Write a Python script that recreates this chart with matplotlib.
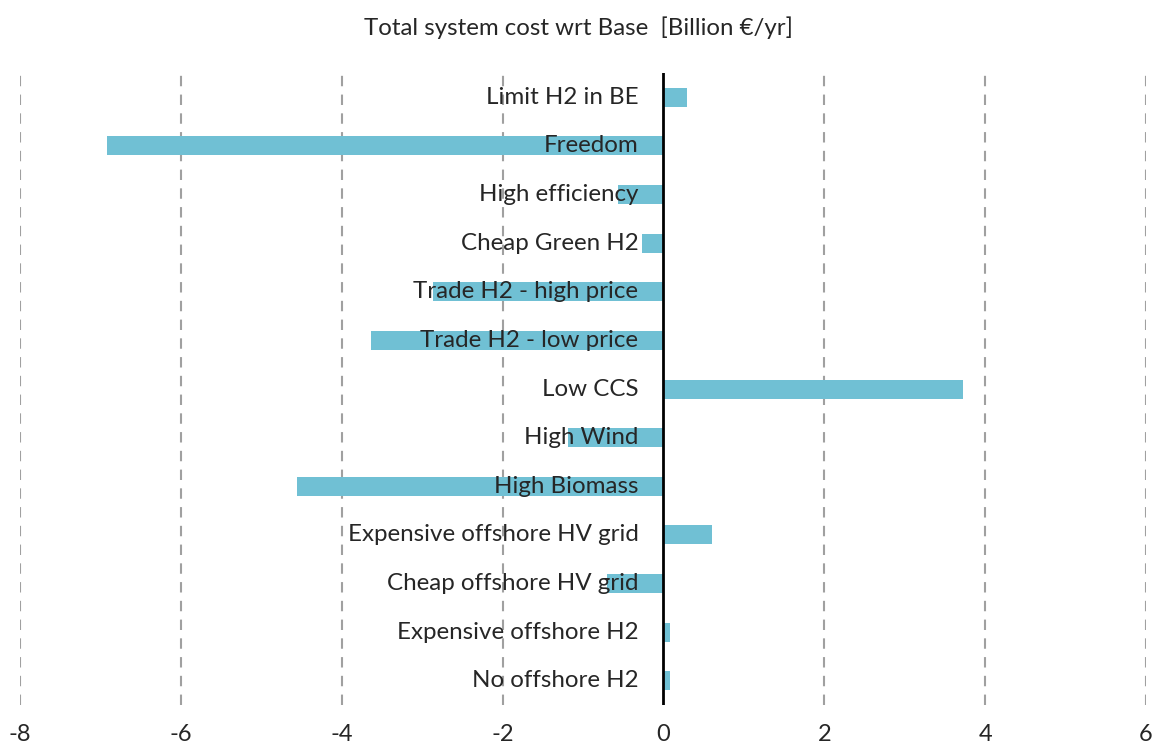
import matplotlib.pyplot as plt
import numpy as np

plt.rcParams['font.family'] = ['Lato', 'DejaVu Sans']

scenarios = ['Limit H2 in BE', 'Freedom', 'High efficiency', 'Cheap Green H2',
             'Trade H2 - high price', 'Trade H2 - low price', 'Low CCS', 'High Wind',
             'High Biomass', 'Expensive offshore HV grid', 'Cheap offshore HV grid',
             'Expensive offshore H2', 'No offshore H2']
cost_delta = [0.29, -6.92, -0.57, -0.26, -2.86, -3.63, 3.72, -1.19, -4.55, 0.61, -0.70, 0.08, 0.08]
xticks = [-8, -6, -4, -2, 0, 2, 4, 6]

fig = plt.figure(figsize=(11.56, 7.49), dpi=100)
ax = fig.add_axes([0.0173, 0.0587, 0.974, 0.8438])

ypos = np.arange(len(scenarios))
ax.barh(ypos, cost_delta, height=0.39, color='#70C0D4', zorder=2)

for x in xticks:
    if x != 0:
        ax.axvline(x, color='#A0A0A0', linestyle=(0, (5, 4)), linewidth=1.5, zorder=1)
ax.axvline(0, color='black', linewidth=2, zorder=3)

for i, name in enumerate(scenarios):
    ax.annotate(name, xy=(0, i), xytext=(-18, 0), textcoords='offset points',
                ha='right', va='center', fontsize=17.4, color='#262626', zorder=4)

ax.set_xlim(-8, 6)
ax.set_ylim(len(scenarios) - 0.5, -0.5)
ax.set_xticks(xticks)
ax.set_xticklabels([str(x) for x in xticks], fontsize=17, color='#262626')
ax.tick_params(axis='x', length=0, pad=14)
ax.set_yticks([])
for s in ax.spines.values():
    s.set_visible(False)

fig.text(0.5, 0.963, 'Total system cost wrt Base  [Billion €/yr]', ha='center', va='center',
         fontsize=17.3, color='#262626')

plt.savefig('out.png')
